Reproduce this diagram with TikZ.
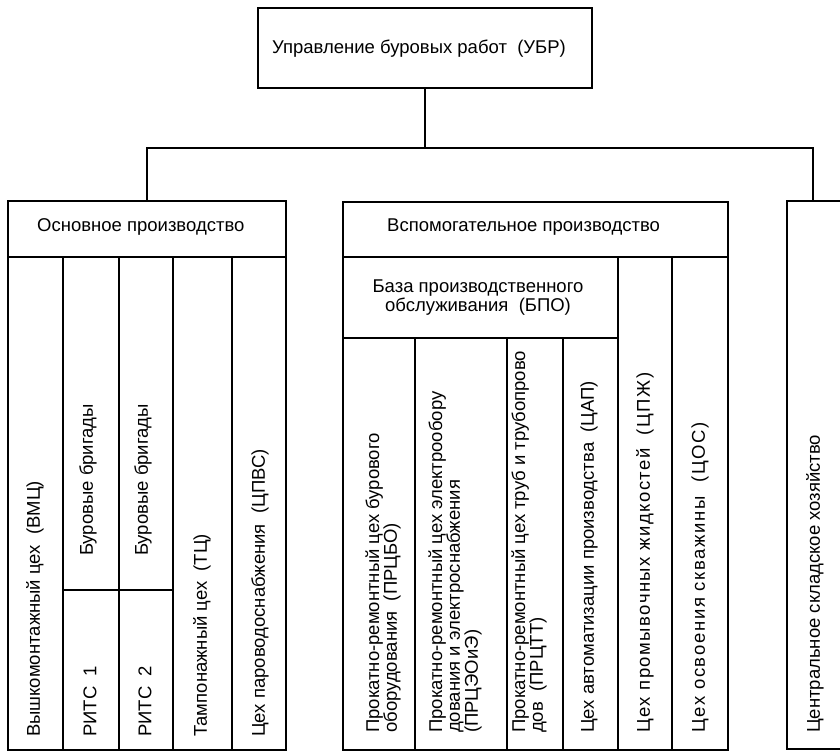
\documentclass[tikz,border=0pt]{standalone}
\usepackage{fontspec}
\setmainfont{Liberation Sans}
\newcommand\chartfont{\fontsize{18.5}{17.8}\selectfont}
\newcommand\widetext[1]{\addfontfeatures{LetterSpace=#1}}
\tikzset{
  frame/.style={draw, line width=1.8pt, inner sep=0pt, outer sep=0pt},
  rule/.style={line width=1.8pt},
  vtext/.style={rotate=90, anchor=west, inner sep=0pt, align=left, font=\chartfont},
  htext/.style={inner sep=0pt, font=\chartfont},
}
\begin{document}
\begin{tikzpicture}[x=1pt, y=-1pt]
\useasboundingbox (0,0) rectangle (840,754);

% head office
\node[frame, minimum width=334pt, minimum height=80pt] (ubr) at (425,48) {};
\node[htext] (ubrt) at (419,49) {Управление буровых работ~ (УБР)};

% group frames
\node[frame, minimum width=278pt, minimum height=549pt] (osn) at (147,475.5) {};
\node[frame, minimum width=385pt, minimum height=548pt] (vsp) at (535.5,476) {};
\coordinate (cshtop) at (813,201);
\draw[rule] (845,201) -- (787,201) -- (787,749) -- (845,749);

% bus from the head office
\coordinate (bus) at (ubr.south |- 0,148);
\draw[rule] (ubr.south) -- (bus);
\draw[rule] (osn.north) |- (bus) -| (cshtop);

% main production: heading row and columns
\draw[rule] (8,257) -- (286,257);
\foreach \x in {63,119,173,232} \draw[rule] (\x,257) -- (\x,750);
\draw[rule] (63,590) -- (173,590);

% auxiliary production: heading row, service base and columns
\draw[rule] (343,257) -- (728,257);
\draw[rule] (343,338) -- (618,338);
\foreach \x in {618,672} \draw[rule] (\x,257) -- (\x,750);
\foreach \x in {415,507,563} \draw[rule] (\x,338) -- (\x,750);

% headings
\node[htext, anchor=west] (osnh) at (37,227) {Основное производство};
\node[htext, anchor=west] (vsph) at (387,227) {Вспомогательное производство};
\node[htext, align=center, font=\fontsize{18.5}{19}\selectfont] (bpo) at (478,298)
  {База производственного\\обслуживания~ (БПО)};

% main production units
\node[vtext] (vmc) at (35,737) {Вышкомонтажный цех~ (ВМЦ)};
\node[vtext] (bb1) at (88,556) {Буровые бригады};
\node[vtext] (rits1) at (90,737) {РИТС~ 1};
\node[vtext] (bb2) at (143,556) {Буровые бригады};
\node[vtext] (rits2) at (145,737) {РИТС~ 2};
\node[vtext] (tc) at (202,737) {Тампонажный цех~ (ТЦ)};
\node[vtext] (cpvs) at (260,737) {Цех пароводоснабжения~ (ЦПВС)};

% auxiliary production units
\node[vtext] (prcbo) at (383,733) {Прокатно-ремонтный цех бурового\\оборудования~ (ПРЦБО)};
\node[vtext] (prceo) at (455,733) {Прокатно-ремонтный цех электрообору\\дования и электроснабжения\\(ПРЦЭОиЭ)};
\node[vtext] (prctt) at (529,733) {Прокатно-ремонтный цех труб и трубопрово\\дов~ (ПРЦТТ)};
\node[vtext] (cap) at (589,733) {Цех автоматизации производства~ (ЦАП)};
\node[vtext] (cpzh) at (645,733) {\widetext{8}Цех промывочных жидкостей~ (ЦПЖ)};
\node[vtext] (cos) at (700,733) {\widetext{9}Цех освоения скважины~ (ЦОС)};

% central warehouse
\node[vtext] (csh) at (815,733) {Центральное складское хозяйство};
\end{tikzpicture}
\end{document}
